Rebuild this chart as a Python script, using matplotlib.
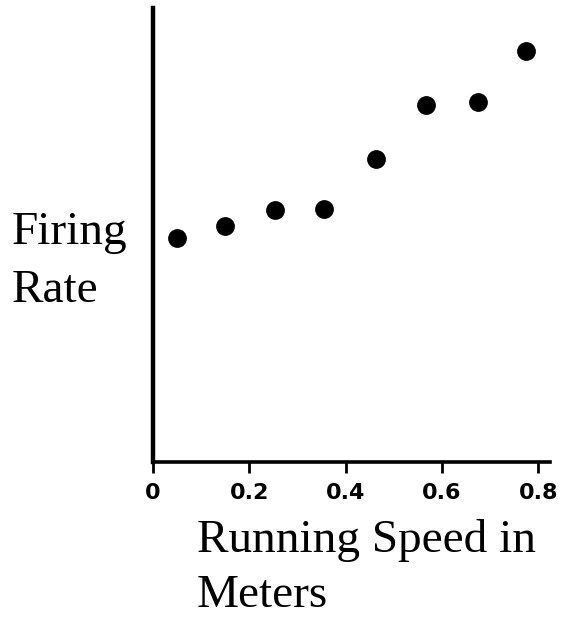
import matplotlib.pyplot as plt

# running speed (m) vs firing rate (arbitrary units, no y scale in the original)
speed = [0.05, 0.15, 0.254, 0.355, 0.463, 0.566, 0.674, 0.774]
rate = [49.2, 52.0, 55.5, 55.7, 66.7, 78.6, 79.3, 90.6]
xticks = [0, 0.2, 0.4, 0.6, 0.8]
xticklabels = ["0", "0.2", "0.4", "0.6", "0.8"]

fig = plt.figure(figsize=(5.61, 6.17), dpi=100)
ax = fig.add_axes([153 / 561, 1 - 461.7 / 617, 397 / 561, 453.7 / 617])

ax.plot(speed, rate, "o", color="black", markersize=12.5, clip_on=False)

ax.set_xlim(0, 0.824)
ax.set_ylim(0, 100)

for s in ["top", "right"]:
    ax.spines[s].set_visible(False)
ax.spines["left"].set_linewidth(3.2)
ax.spines["bottom"].set_linewidth(2.6)

ax.set_yticks([])
ax.set_xticks(xticks)
ax.set_xticklabels(xticklabels, fontfamily="DejaVu Sans", fontweight="bold", fontsize=16)
ax.tick_params(axis="x", direction="out", length=8, width=2, pad=7)

# axis labels drawn as free text like the slide
serif = dict(fontfamily="Liberation Serif", fontsize=34, color="black")
fig.text(12 / 561, 1 - 244.3 / 617, "Firing", va="baseline", ha="left", **serif)
fig.text(12 / 561, 1 - 301.7 / 617, "Rate", va="baseline", ha="left", **serif)
fig.text(197 / 561, 1 - 552 / 617, "Running Speed in", va="baseline", ha="left", **serif)
fig.text(197 / 561, 1 - 607 / 617, "Meters", va="baseline", ha="left", **serif)

fig.savefig("out.png", dpi=100)
